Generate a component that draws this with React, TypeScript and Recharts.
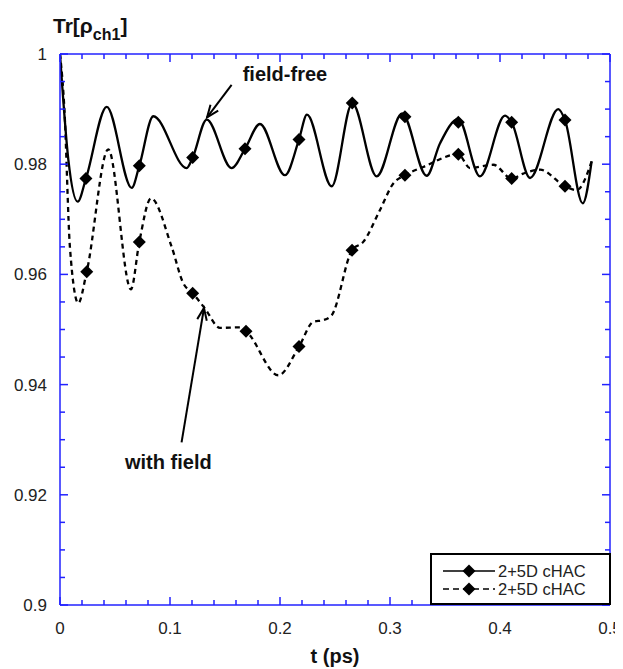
import React from 'react';
import { ComposedChart, Line, Scatter, XAxis, YAxis, ReferenceLine, ReferenceDot } from 'recharts';

// ---- data ----
const solidT = [0, 0.0076, 0.0161, 0.0236, 0.0425, 0.0652, 0.0721, 0.0848, 0.1152, 0.1206, 0.1334, 0.156, 0.1682, 0.1818, 0.2045, 0.2173, 0.2245, 0.247, 0.2657, 0.2879, 0.311, 0.3333, 0.3455, 0.3621, 0.3818, 0.4045, 0.4106, 0.4273, 0.453, 0.4591, 0.4752, 0.4833];
const solidV = [1, 0.9808, 0.9732, 0.9774, 0.9904, 0.9757, 0.9797, 0.9887, 0.9793, 0.9812, 0.9881, 0.9793, 0.9828, 0.9873, 0.978, 0.9845, 0.989, 0.976, 0.9911, 0.9778, 0.9892, 0.9779, 0.9838, 0.9882, 0.9778, 0.9888, 0.9876, 0.9775, 0.99, 0.988, 0.9729, 0.9805];

const dashedT = [0, 0.004, 0.009, 0.0166, 0.0243, 0.0439, 0.0645, 0.0721, 0.0827, 0.1015, 0.1121, 0.1206, 0.1318, 0.1455, 0.1636, 0.1691, 0.1985, 0.2173, 0.2303, 0.2394, 0.247, 0.2655, 0.2757, 0.2909, 0.303, 0.3136, 0.3303, 0.3621, 0.3727, 0.3939, 0.4106, 0.4212, 0.4364, 0.4591, 0.4697, 0.4833];
const dashedV = [1, 0.99, 0.965, 0.9548, 0.9605, 0.9827, 0.9573, 0.9659, 0.9738, 0.965, 0.9584, 0.9566, 0.9538, 0.9503, 0.9504, 0.9497, 0.9417, 0.9469, 0.9514, 0.9517, 0.9526, 0.9644, 0.9659, 0.9717, 0.9765, 0.978, 0.9795, 0.9818, 0.9793, 0.9799, 0.9774, 0.9783, 0.979, 0.976, 0.9753, 0.9805];

const solidMarkT = [0.0236, 0.0721, 0.1206, 0.1682, 0.2173, 0.2657, 0.3136, 0.3621, 0.4106, 0.4591];
const solidMarkV = [0.9774, 0.9797, 0.9812, 0.9828, 0.9845, 0.9911, 0.9886, 0.9876, 0.9876, 0.988];
const dashedMarkT = [0.0243, 0.0721, 0.1206, 0.1691, 0.2173, 0.2655, 0.3136, 0.3621, 0.4106, 0.4591];
const dashedMarkV = [0.9605, 0.9659, 0.9566, 0.9497, 0.9469, 0.9644, 0.978, 0.9818, 0.9774, 0.976];

const xMajorTicks = [0, 0.1, 0.2, 0.3, 0.4, 0.5];
const xMajorLabels = ['0', '0.1', '0.2', '0.3', '0.4', '0.5'];
const yMajorTicks = [0.9, 0.92, 0.94, 0.96, 0.98, 1];
const yMajorLabels = ['0.9', '0.92', '0.94', '0.96', '0.98', '1'];

const seriesName = '2+5D cHAC';
const yTitle = 'Tr[ρ';
const ySub = 'ch1';
const xTitle = 't (ps)';
const noteFree = 'field-free';
const noteField = 'with field';

// ---- helpers ----
const zip = (t: number[], v: number[]) => t.map((x, i) => ({ t: x, v: v[i] }));
const solidData = zip(solidT, solidV);
const dashedData = zip(dashedT, dashedV);
const solidMarks = zip(solidMarkT, solidMarkV);
const dashedMarks = zip(dashedMarkT, dashedMarkV);

const xAllTicks: number[] = [];
for (let i = 0; i <= 25; i++) xAllTicks.push(Math.round(i * 0.02 * 1000) / 1000);
const yAllTicks: number[] = [];
for (let i = 0; i <= 20; i++) yAllTicks.push(Math.round((0.9 + i * 0.005) * 10000) / 10000);

const BLUE = '#2222ff';
const near = (a: number, b: number) => Math.abs(a - b) < 1e-6;
const majorIdx = (arr: number[], v: number) => arr.findIndex((m) => near(m, v));

const BottomTick = (p: any) => {
  const { x, y, payload } = p;
  const i = majorIdx(xMajorTicks, payload.value);
  return (
    <g>
      <line x1={x} y1={y} x2={x} y2={y - (i >= 0 ? 8 : 5)} stroke={BLUE} strokeWidth={1.5} />
      {i >= 0 && (
        <text x={x} y={y + 29} textAnchor="middle" fontSize={17} fill="#222">{xMajorLabels[i]}</text>
      )}
    </g>
  );
};
const TopTick = (p: any) => {
  const { x, y, payload } = p;
  const i = majorIdx(xMajorTicks, payload.value);
  return <line x1={x} y1={y} x2={x} y2={y + (i >= 0 ? 8 : 5)} stroke={BLUE} strokeWidth={1.5} />;
};
const LeftTick = (p: any) => {
  const { x, y, payload } = p;
  const i = majorIdx(yMajorTicks, payload.value);
  return (
    <g>
      <line x1={x} y1={y} x2={x + (i >= 0 ? 8 : 5)} y2={y} stroke={BLUE} strokeWidth={1.5} />
      {i >= 0 && (
        <text x={x - 13} y={y + 6} textAnchor="end" fontSize={17} fill="#222">{yMajorLabels[i]}</text>
      )}
    </g>
  );
};
const RightTick = (p: any) => {
  const { x, y, payload } = p;
  const i = majorIdx(yMajorTicks, payload.value);
  return <line x1={x} y1={y} x2={x - (i >= 0 ? 8 : 5)} y2={y} stroke={BLUE} strokeWidth={1.5} />;
};

const Diamond = (p: any) => {
  const { cx, cy } = p;
  const r = 6.5;
  return <polygon points={`${cx},${cy - r} ${cx + r},${cy} ${cx},${cy + r} ${cx - r},${cy}`} fill="#000" />;
};

const arrowShape = (p: any) => {
  const { x1, y1, x2, y2 } = p;
  const ang = Math.atan2(y2 - y1, x2 - x1);
  const L = 13;
  const a = 0.38;
  const bx1 = x2 - L * Math.cos(ang - a);
  const by1 = y2 - L * Math.sin(ang - a);
  const bx2 = x2 - L * Math.cos(ang + a);
  const by2 = y2 - L * Math.sin(ang + a);
  return (
    <g>
      <line x1={x1} y1={y1} x2={x2} y2={y2} stroke="#000" strokeWidth={2} />
      <polyline points={`${bx1},${by1} ${x2},${y2} ${bx2},${by2}`} fill="none" stroke="#000" strokeWidth={2} />
    </g>
  );
};

const LegendRow = ({ dashed, top }: { dashed: boolean; top: number }) => (
  <div style={{ position: 'absolute', left: 0, top, height: 18, width: '100%' }}>
    <svg width={56} height={18} style={{ position: 'absolute', left: 9, top: 0 }}>
      <line x1={2} y1={9} x2={54} y2={9} stroke="#000" strokeWidth={1.5} strokeDasharray={dashed ? '6 4' : undefined} />
      <polygon points="28,2.5 34.5,9 28,15.5 21.5,9" fill="#000" />
    </svg>
    <span style={{ position: 'absolute', left: 66, top: 0, fontSize: 16.5, lineHeight: '18px', color: '#222', whiteSpace: 'nowrap' }}>{seriesName}</span>
  </div>
);

export default function App() {
  return (
    <div style={{ position: 'relative', width: 615, height: 661, fontFamily: '"Liberation Sans", Arial, Helvetica, sans-serif', background: '#fff' }}>
      <ComposedChart width={615} height={661} margin={{ top: 45, right: 12, bottom: 0, left: 0 }}>
        <XAxis dataKey="t" type="number" domain={[0, 0.5]} ticks={xAllTicks} interval={0} allowDataOverflow
          tickSize={0} tickMargin={0} tick={BottomTick} axisLine={{ stroke: BLUE, strokeWidth: 1.5 }} height={64} />
        <XAxis xAxisId="top" orientation="top" dataKey="t" type="number" domain={[0, 0.5]} ticks={xAllTicks} interval={0} allowDataOverflow
          tickSize={0} tickMargin={0} tick={TopTick} axisLine={{ stroke: BLUE, strokeWidth: 1.5 }} height={1} />
        <YAxis type="number" domain={[0.9, 1]} ticks={yAllTicks} interval={0} allowDataOverflow
          tickSize={0} tickMargin={0} tick={LeftTick} axisLine={{ stroke: BLUE, strokeWidth: 1.5 }} width={52} />
        <YAxis yAxisId="right" orientation="right" type="number" domain={[0.9, 1]} ticks={yAllTicks} interval={0} allowDataOverflow
          tickSize={0} tickMargin={0} tick={RightTick} axisLine={{ stroke: BLUE, strokeWidth: 1.5 }} width={1} />
        <Line data={solidData} dataKey="v" xAxisId="top" yAxisId="right" type="monotone" stroke="none" strokeWidth={0}
          dot={false} activeDot={false} legendType="none" isAnimationActive={false} />
        <Line data={solidData} dataKey="v" type="monotone" stroke="#000" strokeWidth={2.3} dot={false} isAnimationActive={false} />
        <Line data={dashedData} dataKey="v" type="monotone" stroke="#000" strokeWidth={2.3} strokeDasharray="5 4" dot={false} isAnimationActive={false} />
        <Scatter data={solidMarks} dataKey="v" shape={Diamond} isAnimationActive={false} />
        <Scatter data={dashedMarks} dataKey="v" shape={Diamond} isAnimationActive={false} />
        <ReferenceLine segment={[{ x: 0.156, y: 0.9944 }, { x: 0.1337, y: 0.9885 }]} shape={arrowShape} />
        <ReferenceLine segment={[{ x: 0.1105, y: 0.9295 }, { x: 0.1309, y: 0.9539 }]} shape={arrowShape} />
        <ReferenceDot x={0.2045} y={0.9964} r={0} fill="none" stroke="none"
          label={{ value: noteFree, position: 'center', fontSize: 20, fontWeight: 'bold', fill: '#111' }} />
        <ReferenceDot x={0.0985} y={0.926} r={0} fill="none" stroke="none"
          label={{ value: noteField, position: 'center', fontSize: 20, fontWeight: 'bold', fill: '#111' }} />
      </ComposedChart>

      <div style={{ position: 'absolute', left: 45, top: 6, fontSize: 21, fontWeight: 'bold', color: '#111', whiteSpace: 'nowrap', lineHeight: '24px' }}>
        {yTitle}
        <span style={{ fontSize: 16, position: 'relative', top: 7 }}>{ySub}</span>]
      </div>
      <div style={{ position: 'absolute', left: 227, width: 200, top: 636, textAlign: 'center', fontSize: 20, fontWeight: 'bold', color: '#111', lineHeight: '24px' }}>
        {xTitle}
      </div>

      <div style={{ position: 'absolute', left: 422, top: 545, width: 181, height: 52, boxSizing: 'border-box', border: '2px solid #000', background: '#fff' }}>
        <LegendRow dashed={false} top={6.5} />
        <LegendRow dashed={true} top={25} />
      </div>
    </div>
  );
}
